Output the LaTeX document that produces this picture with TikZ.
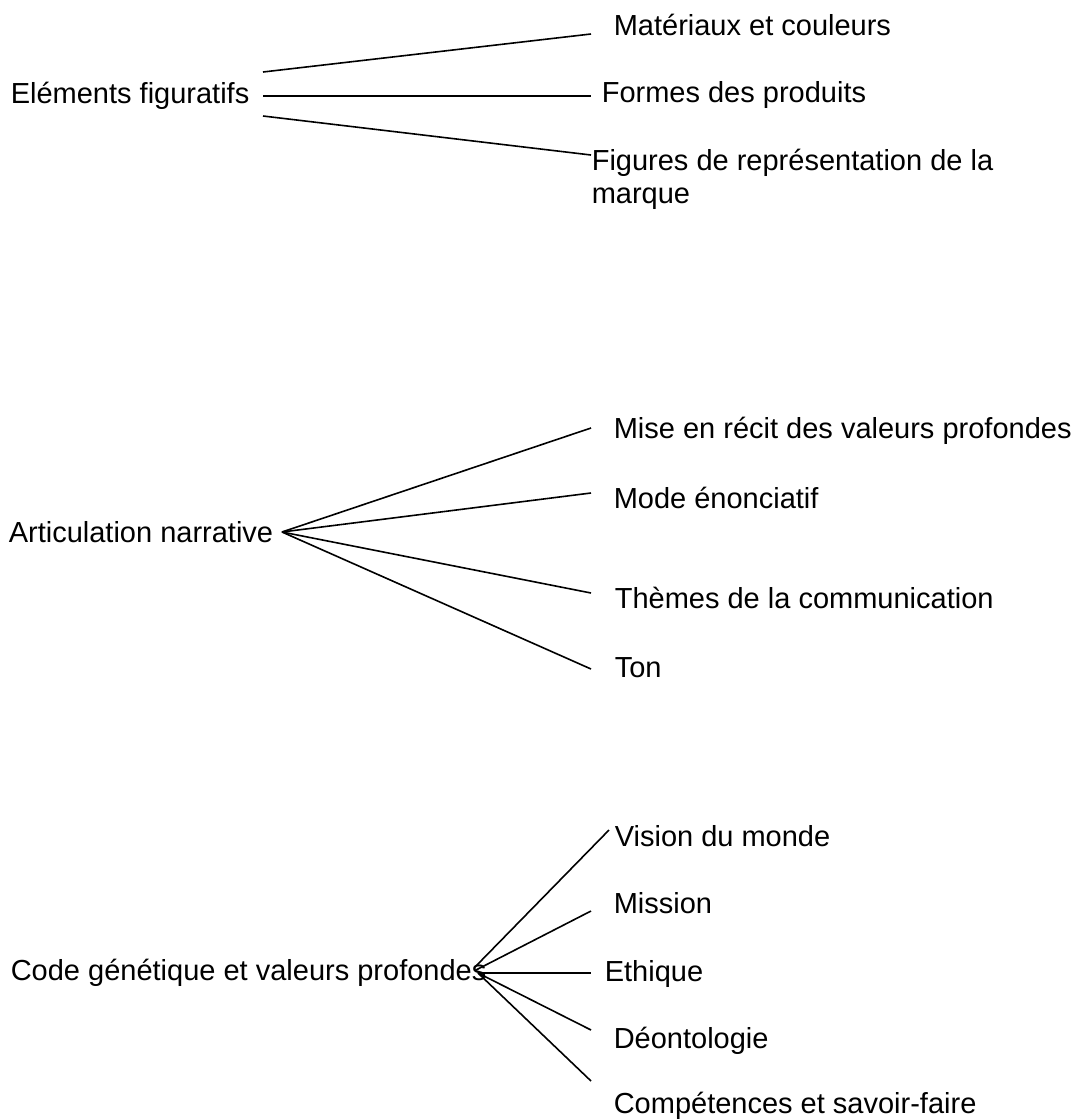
\documentclass[tikz,border=0pt]{standalone}
\usepackage{fontspec}
\setmainfont{Liberation Sans}
\usetikzlibrary{positioning}

\begin{document}
\begin{tikzpicture}[
		x = 0.5pt,
		y = -0.5pt,
		every node/.style={
			inner sep = 0pt,
			anchor = base west,
			align = left,
			font = \fontsize{14.5}{16.5}\selectfont
		},
		every path/.style={
			line width = 0.8pt}
		]
		
		\useasboundingbox (0,0) rectangle (1086,1120);
		
		\node (elem) at (10,103) {Eléments figuratifs};
		\node (mat) at (613,35) {Matériaux et couleurs};
		\node (formes) at (601,102) {Formes des produits};
		\node (fig) at (591,203) {Figures de représentation de la\\marque};
		
		\node (artic) at (8,542) {Articulation narrative};
		\node (mise) at (613,438) {Mise en récit des valeurs profondes};
		\node (mode) at (613,508) {Mode énonciatif};
		\node (themes) at (614,608) {Thèmes de la communication};
		\node (ton) at (614,677) {Ton};
		
		\node (code) at (10,980) {Code génétique et valeurs profondes};
		\node (vision) at (614,846) {Vision du monde};
		\node (mission) at (613,913) {Mission};
		\node (ethique) at (604,981) {Ethique};
		\node (deonto) at (613,1048) {Déontologie};
		\node (compet) at (613,1113) {Compétences et savoir-faire};
		
		\coordinate (elem-a) at (263,72);
		\coordinate (elem-b) at (263,96);
		\coordinate (elem-c) at (263,116);
		\coordinate (mat-in) at (591,34);
		\coordinate (formes-in) at (591,96);
		\coordinate (fig-in) at (591,155);
		
		\coordinate (artic-out) at (282,532);
		\coordinate (mise-in) at (591,428);
		\coordinate (mode-in) at (591,493);
		\coordinate (themes-in) at (591,593);
		\coordinate (ton-in) at (591,669);
		
		\coordinate (code-out) at (476,970);
		\coordinate (vision-in) at (609,830);
		\coordinate (mission-in) at (591,911);
		\coordinate (ethique-in) at (591,973);
		\coordinate (deonto-in) at (591,1030);
		\coordinate (compet-in) at (591,1081);
		
		\draw (elem-a) -- (mat-in);
		\draw (elem-b) -- (formes-in);
		\draw (elem-c) -- (fig-in);
		
		\foreach \leaf in {mise, mode, themes, ton}
			\draw (artic-out) -- (\leaf-in);
		
		\draw (code-out) ++(0,-4) -- (vision-in);
		\draw (code-out) -- (mission-in);
		\draw (code-out) ++(2,3) -- (ethique-in);
		\draw (code-out) ++(2,3) -- (deonto-in);
		\draw (code-out) ++(2,3) -- (compet-in);
	\end{tikzpicture}
\end{document}
